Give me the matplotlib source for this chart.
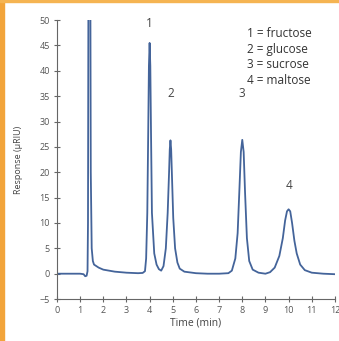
import matplotlib
matplotlib.use("Agg")
import matplotlib.pyplot as plt
from matplotlib.patches import Rectangle

# ----------------------------
# Chromatogram trace
# ----------------------------
time_min = [0.0, 1.0, 1.15, 1.22, 1.28, 1.32, 1.34, 1.36, 1.44, 1.46, 1.50, 1.55,
            1.60, 1.80, 2.0, 2.5, 3.0, 3.5, 3.7, 3.80, 3.85, 3.90, 3.94, 3.97,
            4.0, 4.03, 4.06, 4.10, 4.20, 4.30, 4.40, 4.50, 4.60, 4.70, 4.78,
            4.84, 4.87, 4.90, 4.93, 4.96, 5.02, 5.10, 5.20, 5.30, 5.50, 6.0,
            6.5, 7.0, 7.40, 7.55, 7.70, 7.80, 7.88, 7.94, 8.00, 8.06, 8.12,
            8.20, 8.30, 8.45, 8.70, 9.00, 9.20, 9.40, 9.60, 9.75, 9.85, 9.93,
            10.0, 10.07, 10.15, 10.25, 10.35, 10.5, 10.7, 11.0, 11.5, 12.0]
response = [0.0, 0.0, -0.1, -0.5, -0.4, 0.5, 10.0, 60.0, 60.0, 20.0, 5.0, 2.5,
            1.8, 1.2, 0.8, 0.4, 0.2, 0.1, 0.15, 0.5, 3.0, 12.0, 28.0, 41.0,
            45.5, 41.0, 28.0, 12.0, 4.0, 1.8, 0.9, 0.6, 1.5, 5.0, 12.0,
            20.0, 24.5, 26.3, 24.5, 20.0, 11.0, 5.0, 2.2, 1.0, 0.4, 0.1,
            0.0, 0.0, 0.1, 0.6, 3.0, 8.0, 17.0, 24.0, 26.4, 24.0, 16.0,
            7.0, 2.5, 0.8, 0.2, 0.0, 0.3, 1.2, 3.5, 7.0, 10.5, 12.3,
            12.7, 12.3, 10.0, 6.5, 4.0, 1.8, 0.7, 0.2, 0.0, -0.1]

peak_ids = ["1", "2", "3", "4"]
peak_times = [4.0, 4.9, 8.0, 10.0]
peak_label_y = [48.0, 34.2, 34.2, 16.2]
sugars = ["fructose", "glucose", "sucrose", "maltose"]

# ----------------------------
# Plot
# ----------------------------
plt.rcParams["font.family"] = ["Open Sans", "DejaVu Sans"]
fig = plt.figure(figsize=(3.39, 3.41), dpi=100)
ax = fig.add_axes([0.168, 0.123, 0.82, 0.818])

ax.plot(time_min, response, color="#44649a", lw=1.3, solid_joinstyle="round")

for pid, t, y in zip(peak_ids, peak_times, peak_label_y):
    ax.text(t, y, pid, ha="center", va="bottom", fontsize=8.5, color="#444444")

legend_txt = "\n".join(f"{i} = {s}" for i, s in zip(peak_ids, sugars))
ax.text(0.685, 0.975, legend_txt, transform=ax.transAxes, ha="left", va="top",
        fontsize=8.5, color="#333333", linespacing=1.25)

ax.set_xlim(0, 12)
ax.set_ylim(-5, 50)
ax.set_xticks(range(0, 13))
ax.set_yticks(range(-5, 51, 5))
ax.set_xlabel("Time (min)", fontsize=7.5, color="#444444", labelpad=2)
ax.set_ylabel("Response (µRIU)", fontsize=6.5, color="#444444", labelpad=12)
ax.tick_params(direction="inout", length=4, width=0.8, color="#666666",
               labelsize=6.5, labelcolor="#555555", pad=3)
ax.spines["top"].set_visible(False)
ax.spines["right"].set_visible(False)
for s in ("left", "bottom"):
    ax.spines[s].set_color("#666666")
    ax.spines[s].set_linewidth(0.8)

# orange page edge from the source figure
fig.patches.append(Rectangle((0, 0), 4 / 339, 1, transform=fig.transFigure,
                             color="#f2a43a", zorder=0))
fig.patches.append(Rectangle((0, 1 - 2 / 341), 1, 2 / 341, transform=fig.transFigure,
                             color="#f5b452", zorder=0))

fig.savefig("out.png", dpi=100)
